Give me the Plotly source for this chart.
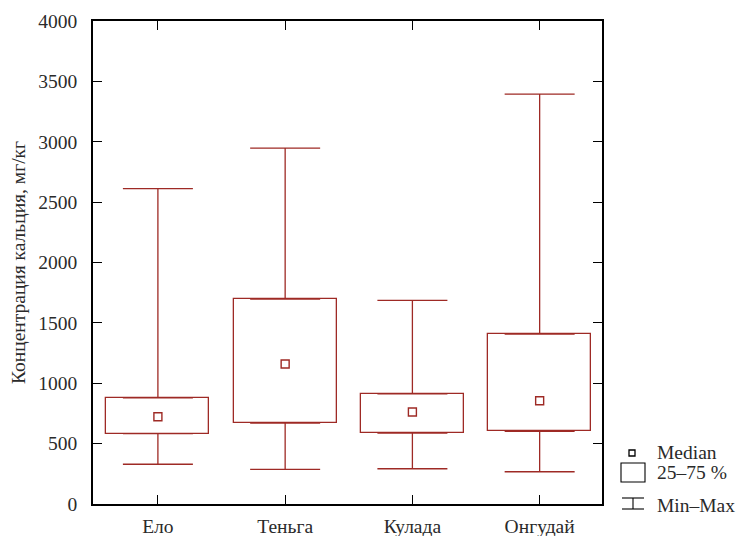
import plotly.graph_objects as go

sites = ["Ело", "Теньга", "Кулада", "Онгудай"]
ca_min = [329, 287, 292, 267]
ca_q1 = [582, 671, 588, 602]
ca_median = [723, 1159, 762, 855]
ca_q3 = [880, 1697, 913, 1407]
ca_max = [2612, 2947, 1686, 3394]
y_ticks = [0, 500, 1000, 1500, 2000, 2500, 3000, 3500, 4000]

RED = "#9e2a25"
FONT = "'Liberation Serif', 'Times New Roman', serif"
TXT = "#2a2a2a"

fig = go.Figure()

# 25-75 % boxes
fig.add_trace(go.Bar(
    x=sites, y=[b - a for a, b in zip(ca_q1, ca_q3)], base=ca_q1,
    width=0.81, marker=dict(color="white", line=dict(color=RED, width=1.3)),
    showlegend=False, hoverinfo="skip"))

# upper whiskers
fig.add_trace(go.Scatter(
    x=sites, y=ca_max, mode="markers", marker=dict(size=0.1, color=RED, opacity=0),
    error_y=dict(type="data", symmetric=False, array=[0] * 4,
                 arrayminus=[m - q for m, q in zip(ca_max, ca_q3)],
                 color=RED, thickness=1.3, width=35),
    showlegend=False, hoverinfo="skip"))

# lower whiskers
fig.add_trace(go.Scatter(
    x=sites, y=ca_min, mode="markers", marker=dict(size=0.1, color=RED, opacity=0),
    error_y=dict(type="data", symmetric=False, arrayminus=[0] * 4,
                 array=[q - m for m, q in zip(ca_min, ca_q1)],
                 color=RED, thickness=1.3, width=35),
    showlegend=False, hoverinfo="skip"))

# medians
fig.add_trace(go.Scatter(
    x=sites, y=ca_median, mode="markers",
    marker=dict(symbol="square-open", size=8, color=RED, line=dict(width=1.4)),
    showlegend=False, hoverinfo="skip"))

# custom legend: positions given in window pixels, converted to plot-area paper coords
PL, PR, PT, PB = 93, 602, 21, 504
def px(x):
    return (x - PL) / (PR - PL)
def py(y):
    return (PB - y) / (PB - PT)

shapes = [
    dict(type="rect", xref="paper", yref="paper", x0=px(629), x1=px(635), y0=py(456), y1=py(450),
         line=dict(color="black", width=1.3)),
    dict(type="rect", xref="paper", yref="paper", x0=px(621), x1=px(645), y0=py(482), y1=py(463),
         line=dict(color="black", width=1.1)),
    dict(type="line", xref="paper", yref="paper", x0=px(622), x1=px(644), y0=py(498), y1=py(498),
         line=dict(color="black", width=1.1)),
    dict(type="line", xref="paper", yref="paper", x0=px(622), x1=px(644), y0=py(509), y1=py(509),
         line=dict(color="black", width=1.1)),
    dict(type="line", xref="paper", yref="paper", x0=px(633), x1=px(633), y0=py(498), y1=py(509),
         line=dict(color="black", width=1.1)),
]
annotations = []
for label, yy in [("Median", 452), ("25–75 %", 472), ("Min–Max", 505)]:
    annotations.append(dict(xref="paper", yref="paper", x=px(655), y=py(yy), text=label,
                            showarrow=False, xanchor="left", yanchor="middle",
                            font=dict(family=FONT, size=19.5, color=TXT)))

# page body has an 8px margin: compensate so the plot area lands at PL..PR, PT..PB
W, H = 746, 536
OFF = 8
fig.update_layout(
    width=W, height=H,
    margin=dict(l=PL - OFF, r=W - PR + OFF, t=PT - OFF, b=H - PB + OFF, autoexpand=False),
    plot_bgcolor="white", paper_bgcolor="white",
    font=dict(family=FONT, size=19.5, color=TXT),
    shapes=shapes, annotations=annotations,
    bargap=0,
)
fig.update_xaxes(
    type="category", range=[-0.51, 3.49], automargin=False,
    showline=True, linecolor="black", linewidth=1.5, mirror="ticks",
    ticks="inside", ticklen=9, tickwidth=1.3, tickcolor="black",
    showgrid=False, zeroline=False, ticklabelstandoff=4,
    tickfont=dict(family=FONT, size=19.5, color=TXT),
)
fig.update_yaxes(
    range=[0, 4000], tickvals=y_ticks, ticktext=[str(v) for v in y_ticks], automargin=False,
    showline=True, linecolor="black", linewidth=1.5, mirror="ticks",
    ticks="inside", ticklen=9, tickwidth=1.3, tickcolor="black",
    showgrid=False, zeroline=False, ticklabelstandoff=10,
    tickfont=dict(family=FONT, size=19.5, color=TXT),
    title=dict(text="Концентрация кальция, мг/кг", font=dict(family=FONT, size=19.5, color=TXT), standoff=8),
)

fig.write_html("out.html")
